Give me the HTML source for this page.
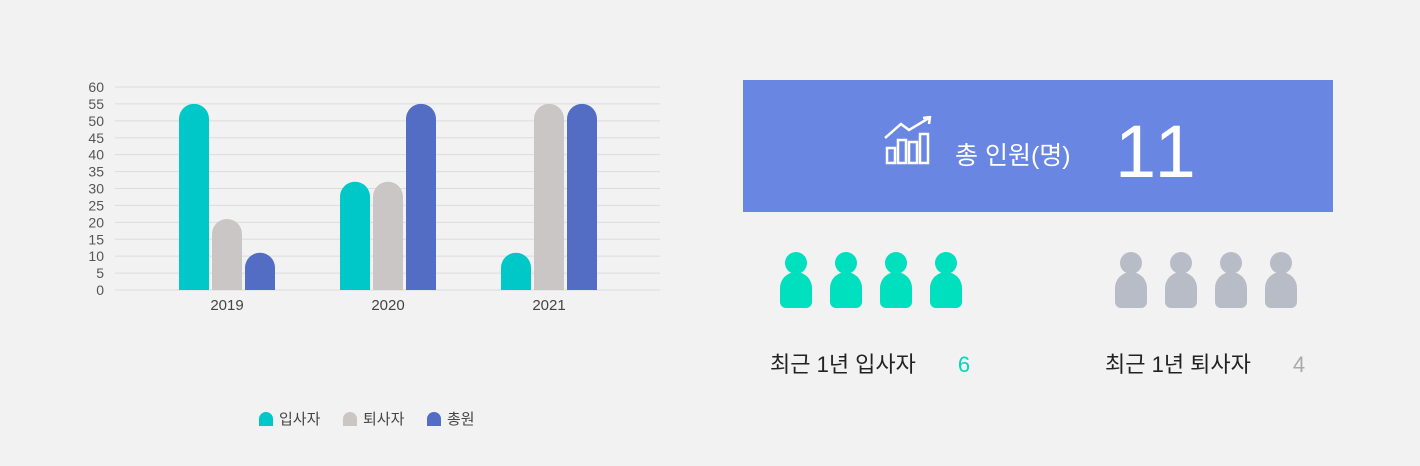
<!DOCTYPE html>
<html><head><meta charset="utf-8"><style>
body{margin:0;width:1420px;height:466px;background:#f2f2f2;position:relative;overflow:hidden;font-family:"Liberation Sans","Noto Sans CJK KR",sans-serif}
.abs{position:absolute}
.person{position:absolute;width:32px;height:56px}
.person .h{position:absolute;left:5px;top:0;width:22px;height:22px;border-radius:50%}
.person .b{position:absolute;left:0;top:20px;width:32px;height:36px;border-radius:16px 16px 6px 6px}
.t .h,.t .b{background:#00e0bf}.g .h,.g .b{background:#b8bcc6}
.lg{position:absolute;top:408px;font-size:15px;color:#444;white-space:nowrap}
</style></head><body>
<svg class="abs" style="left:0;top:0" width="700" height="466">
<g id="grid"></g><g id="bars"></g><g id="labels"></g>
</svg>
<div class="abs" style="left:0;top:0;width:700px;height:466px">
<span class="lg" style="left:259px"><span style="display:inline-block;width:14px;height:14px;background:#00c8c8;border-radius:7px 7px 0 0;vertical-align:-2px;margin-right:6px"></span>입사자</span>
<span class="lg" style="left:343px"><span style="display:inline-block;width:14px;height:14px;background:#cbc6c6;border-radius:7px 7px 0 0;vertical-align:-2px;margin-right:6px"></span>퇴사자</span>
<span class="lg" style="left:427px"><span style="display:inline-block;width:14px;height:14px;background:#536dc4;border-radius:7px 7px 0 0;vertical-align:-2px;margin-right:6px"></span>총원</span>
</div>
<div class="abs" style="left:743px;top:80px;width:590px;height:132px;background:#6a86e3;color:#fff">
<svg class="abs" style="left:140px;top:36px" width="50" height="50" fill="none" stroke="#fff" stroke-width="2.5">
<rect x="4" y="32" width="8" height="15"/><rect x="15" y="24" width="8" height="23"/><rect x="26" y="26" width="8" height="21"/><rect x="37" y="18" width="8" height="29"/>
<polyline points="2,22 18,8 26,14 46,2"/><polyline points="40,2 47,1 46,8"/></svg>
<div class="abs" style="left:212px;top:56px;font-size:25px;white-space:nowrap">총 인원(명)</div>
<div class="abs" style="left:372px;top:32px;font-size:74px;line-height:80px;letter-spacing:4px">11</div>
</div>
<div id="ppl"></div>
<div class="abs" style="left:770px;top:347px;font-size:22px;color:#222;white-space:nowrap">최근 1년 입사자<span style="color:#00d8bc;margin-left:42px">6</span></div>
<div class="abs" style="left:1105px;top:347px;font-size:22px;color:#222;white-space:nowrap">최근 1년 퇴사자<span style="color:#aaa;margin-left:42px">4</span></div>
<script>
const categories=['2019','2020','2021'];
const hires=[55,32,11];
const leaves=[21,32,55];
const totals=[11,55,55];
const ticks=[0,5,10,15,20,25,30,35,40,45,50,55,60];
const NS='http://www.w3.org/2000/svg';
const y=v=>290-v*203/60, xc=i=>227+i*161;
const grid=document.getElementById('grid'),bars=document.getElementById('bars'),lab=document.getElementById('labels');
ticks.forEach(t=>{const l=document.createElementNS(NS,'line');l.setAttribute('x1',115);l.setAttribute('x2',660);l.setAttribute('y1',y(t));l.setAttribute('y2',y(t));l.setAttribute('stroke','#dcdcdc');


grid.appendChild(l);
const tx=document.createElementNS(NS,'text');tx.setAttribute('x',104);tx.setAttribute('y',y(t)+5);tx.setAttribute('text-anchor','end');tx.setAttribute('font-size','14');tx.setAttribute('fill','#555');tx.textContent=t;


lab.appendChild(tx);});
const series=[[hires,'#00c8c8'],[leaves,'#cbc6c6'],[totals,'#536dc4']];
categories.forEach((c,i)=>{series.forEach(([d,col],s)=>{const x=xc(i)-48+s*33,w=30,top=y(d[i]),r=15;
const p=document.createElementNS(NS,'path');p.setAttribute('d',`M${x},290V${top+r}A${r},${r} 0 0 1 ${x+w},${top+r}V290Z`);p.setAttribute('fill',col);


bars.appendChild(p);});
const tx=document.createElementNS(NS,'text');tx.setAttribute('x',xc(i));tx.setAttribute('y',310);tx.setAttribute('text-anchor','middle');tx.setAttribute('font-size','15');tx.setAttribute('fill','#444');tx.textContent=c;


lab.appendChild(tx);});
const ppl=document.getElementById('ppl');
[[780,'t'],[830,'t'],[880,'t'],[930,'t'],[1115,'g'],[1165,'g'],[1215,'g'],[1265,'g']].forEach(([x,c])=>{const d=document.createElement('div');d.className='person '+c;d.style.left=x+'px';d.style.top='252px';d.innerHTML='<div class="h"></div><div class="b"></div>';


ppl.appendChild(d);});
</script>
</body></html>
